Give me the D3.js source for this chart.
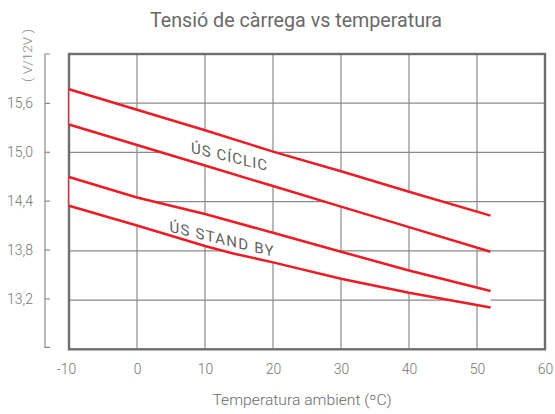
<!DOCTYPE html>
<html><head><meta charset="utf-8">
<script src="https://cdn.jsdelivr.net/npm/d3@7"></script>
<style>
html,body{margin:0;padding:0;background:#fff;}
svg{display:block;font-family:Roboto,'DejaVu Sans Condensed',sans-serif;}
</style></head>
<body>
<svg id="chart" width="555" height="414"></svg>
<script>
// ---- data ----
const temps        = [-10, 0, 10, 20, 30, 40, 52];
const ciclicHigh   = [15.77, 15.52, 15.27, 15.01, 14.77, 14.52, 14.23];
const ciclicLow    = [15.34, 15.09, 14.84, 14.59, 14.34, 14.09, 13.79];
const standbyHigh  = [14.70, 14.45, 14.25, 14.02, 13.79, 13.56, 13.31];
const standbyTemps = [-10, 0, 10, 14, 20, 30, 40, 52];
const standbyLow   = [14.35, 14.11, 13.86, 13.77, 13.66, 13.46, 13.29, 13.11];
const xTicks = [-10, 0, 10, 20, 30, 40, 50, 60];
const yTicks = [13.2, 13.8, 14.4, 15.0, 15.6];
const title = "Tensió de càrrega vs temperatura";
const xTitle = "Temperatura ambient (ºC)";
const yTitle = "( V/12V )";
const bandLabels = ["ÚS CÍCLIC", "ÚS STAND BY"];

// ---- layout ----
const svg = d3.select("#chart");
const L = 69, R = 545, T = 54, B = 349.3;
const x = d3.scaleLinear().domain([-10, 60]).range([L, R]);
const y = d3.scaleLinear().domain([12.6, 16.2]).range([B, T]);
const yAx = d3.scaleLinear().domain([12.6, 16.2]).range([B - 2, T]);
const red = "#ec1c24";
const grey = "#6e6e6e";

function condense(sel, f) {
  sel.each(function () {
    const w = this.getComputedTextLength();
    d3.select(this).attr("textLength", w * f).attr("lengthAdjust", "spacingAndGlyphs");
  });
}

// title
svg.append("text").attr("x", 296).attr("y", 27).attr("text-anchor", "middle")
  .attr("font-size", 21).attr("font-weight", 400).attr("fill", "#696969")
  .attr("textLength", 292).attr("lengthAdjust", "spacingAndGlyphs").text(title);

// grid
const g = svg.append("g");
g.selectAll(".vg").data(xTicks.slice(1, -1)).enter().append("line")
  .attr("x1", d => x(d)).attr("x2", d => x(d)).attr("y1", T).attr("y2", B)
  .attr("stroke", "#8a8a8a").attr("stroke-width", 1.2);
g.selectAll(".hg").data(yTicks).enter().append("line")
  .attr("x1", L).attr("x2", R).attr("y1", d => y(d)).attr("y2", d => y(d))
  .attr("stroke", "#8a8a8a").attr("stroke-width", 1.2);
g.append("rect").attr("x", L).attr("y", T).attr("width", R - L).attr("height", B - T)
  .attr("fill", "none").attr("stroke", grey).attr("stroke-width", 2.4);

// bands
function band(ts, hi, tl, lo) {
  const pts = ts.map((t, i) => [x(t), y(hi[i])]).concat(
    tl.map((t, i) => [x(t), y(lo[i])]).reverse());
  return "M" + pts.map(p => p.join(",")).join("L") + "Z";
}
svg.append("path").attr("d", band(temps, ciclicHigh, temps, ciclicLow)).attr("fill", "#fff");
svg.append("path").attr("d", band(temps, standbyHigh, standbyTemps, standbyLow)).attr("fill", "#fff");
[[ciclicHigh[0], ciclicLow[0]], [standbyHigh[0], standbyLow[0]]].forEach(([a, b]) => {
  svg.append("line").attr("x1", x(-10)).attr("x2", x(-10)).attr("y1", y(a)).attr("y2", y(b))
    .attr("stroke", red).attr("stroke-opacity", 0.45).attr("stroke-width", 2.2);
});

// lines
const line = d3.line().x(d => x(d[0])).y(d => y(d[1]));
[[temps, ciclicHigh], [temps, ciclicLow], [temps, standbyHigh], [standbyTemps, standbyLow]]
  .forEach(([ts, vs]) => {
    svg.append("path").attr("d", line(ts.map((t, i) => [t, vs[i]])))
      .attr("fill", "none").attr("stroke", red).attr("stroke-width", 2.5);
  });

// band labels
function bandLabel(txt, x0, y0, w) {
  svg.append("text").attr("transform", `translate(${x0},${y0}) skewY(13.5)`)
    .attr("font-size", 15).attr("fill", "#626262")
    .attr("textLength", w).attr("lengthAdjust", "spacing")
    .text(txt);
}
bandLabel(bandLabels[0], 191, 152.7, 76);
bandLabel(bandLabels[1], 169.5, 231.7, 104);

// y axis (separate)
const yAxis = d3.axisRight(yAx).tickValues(yTicks).tickSize(5)
  .tickFormat(d => d3.format(".1f")(d).replace(".", ","));
const ya = svg.append("g").attr("transform", `translate(45,0)`).call(yAxis);
ya.attr("font-family", null);
ya.select(".domain").attr("d", `M50,${T}H45V${B - 2}H50`).attr("transform", "translate(-45,0)")
  .attr("stroke", "#8a8a8a").attr("stroke-width", 1.2);
ya.selectAll(".tick line").attr("stroke", "#8a8a8a").attr("stroke-width", 1.2);
ya.selectAll(".tick text").attr("x", -12).attr("text-anchor", "end")
  .attr("font-size", 15.5).attr("font-weight", 300).attr("fill", "#737373");
condense(ya.selectAll(".tick text"), 0.9);

// x axis labels
const xAxis = d3.axisBottom(x).tickValues(xTicks).tickSize(0)
  .tickFormat(d => String(d));
const xa = svg.append("g").attr("transform", `translate(0,${B})`).call(xAxis);
xa.select(".domain").remove();
xa.attr("font-family", null);
xa.selectAll(".tick text").attr("y", 13.5).attr("dy", "0.71em")
  .attr("font-size", 15.5).attr("font-weight", 300).attr("fill", "#737373")
  .attr("dx", d => d < 0 ? -3 : 0);
condense(xa.selectAll(".tick text"), 0.9);

// axis titles
svg.append("text").attr("x", 302).attr("y", 405).attr("text-anchor", "middle")
  .attr("font-size", 14).attr("font-weight", 300).attr("fill", "#6a6a6a")
  .attr("textLength", 179).attr("lengthAdjust", "spacingAndGlyphs").text(xTitle);
svg.append("text").attr("transform", "translate(32,55.5) rotate(-90)").attr("text-anchor", "middle")
  .attr("font-size", 13).attr("font-weight", 300).attr("fill", "#8a8a8a")
  .attr("textLength", 53).attr("lengthAdjust", "spacingAndGlyphs").text(yTitle);
</script>
</body></html>
